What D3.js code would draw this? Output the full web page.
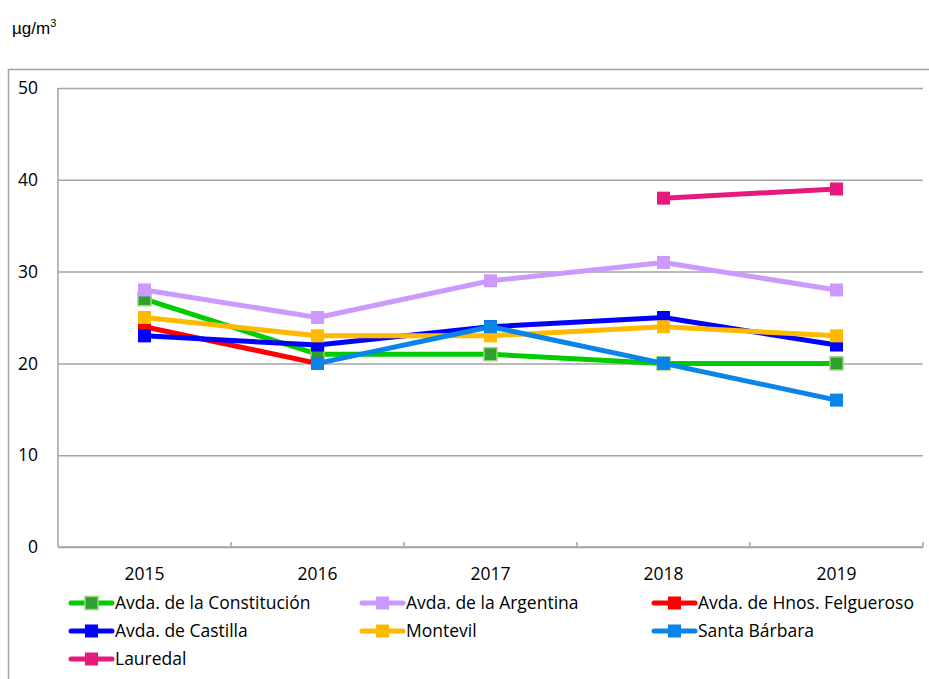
<!DOCTYPE html>
<html>
<head>
<meta charset="utf-8">
<script src="https://cdn.jsdelivr.net/npm/d3@7"></script>
<style>
    body { margin: 0; background: #fff; }
    svg { display: block; font-family: "Open Sans", sans-serif; }
</style>
</head>
<body>
<svg id="chart" width="929" height="679"></svg>
<script>
// Data
var years = ['2015', '2016', '2017', '2018', '2019'];
var yTicks = [0, 10, 20, 30, 40, 50];
var seriesNames = ['Avda. de la Constitución', 'Avda. de la Argentina', 'Avda. de Hnos. Felgueroso',
    'Avda. de Castilla', 'Montevil', 'Santa Bárbara', 'Lauredal'];
var constitucion = [27, 21, 21, 20, 20];
var argentina = [28, 25, 29, 31, 28];
var felgueroso = [24, 20, null, null, null];
var castilla = [23, 22, 24, 25, 22];
var montevil = [25, 23, 23, 24, 23];
var santaBarbara = [null, 20, 24, 20, 16];
var lauredal = [null, null, null, 38, 39];

var seriesValues = [constitucion, argentina, felgueroso, castilla, montevil, santaBarbara, lauredal];
var lineColors = ['#00cc00', '#cc99ff', '#ff0000', '#0000ff', '#ffb900', '#0a84e8', '#e8197d'];
var markerColors = ['#2ea02e', '#cc99ff', '#ff0000', '#0000ff', '#ffb900', '#0a84e8', '#e8197d'];
var markerStrokes = ['#9ad27a', null, null, null, null, null, null];

var plot = { left: 58, top: 88, right: 923, bottom: 547 };
var gray = '#a3a3a3';

var svg = d3.select('#chart');

// Outer frame of the chart area
svg.append('path')
    .attr('d', 'M8.5,690 V69.5 H940')
    .attr('fill', 'none')
    .attr('stroke', gray)
    .attr('stroke-width', 1.5);

// Unit label
var unit = svg.append('text')
    .attr('x', 12)
    .attr('y', 34)
    .attr('font-family', '"Liberation Sans", Arial, sans-serif')
    .attr('font-size', 17)
    .attr('fill', '#000')
    .text('µg/m');
unit.append('tspan')
    .attr('dy', -7)
    .attr('font-size', 11)
    .text('3');

var x = d3.scaleBand()
    .domain(years)
    .range([plot.left, plot.right]);
var y = d3.scaleLinear()
    .domain([0, 50])
    .range([plot.bottom, plot.top]);

// Gridlines and y labels
var yAxis = svg.append('g')
    .attr('transform', 'translate(' + plot.left + ',0)')
    .call(d3.axisLeft(y)
        .tickValues(yTicks)
        .tickSize(-(plot.right - plot.left))
        .tickPadding(20)
        .tickFormat(d3.format('d')));
yAxis.select('.domain').remove();
yAxis.selectAll('line')
    .attr('stroke', gray)
    .attr('stroke-width', 1.5);
yAxis.selectAll('text')
    .attr('font-size', 17.5)
    .attr('font-family', '"Open Sans", sans-serif')
    .attr('fill', '#000');

// Axis lines
svg.append('line')
    .attr('x1', plot.left).attr('x2', plot.left)
    .attr('y1', plot.top).attr('y2', plot.bottom)
    .attr('stroke', gray).attr('stroke-width', 1.5);
svg.append('line')
    .attr('x1', plot.left).attr('x2', plot.right)
    .attr('y1', y(0)).attr('y2', y(0))
    .attr('stroke', gray).attr('stroke-width', 1.5);

// Category boundary ticks
svg.selectAll('.cat-tick')
    .data(years)
    .enter()
    .append('line')
    .classed('cat-tick', true)
    .attr('x1', function (d) { return x(d) + x.bandwidth(); })
    .attr('x2', function (d) { return x(d) + x.bandwidth(); })
    .attr('y1', y(0))
    .attr('y2', y(0) - 5)
    .attr('stroke', gray)
    .attr('stroke-width', 1.5);

// Year labels
var xAxis = svg.append('g')
    .attr('transform', 'translate(0,' + plot.bottom + ')')
    .call(d3.axisBottom(x).tickSize(0).tickPadding(21));
xAxis.select('.domain').remove();
xAxis.selectAll('text')
    .attr('font-size', 17.5)
    .attr('font-family', '"Open Sans", sans-serif')
    .attr('fill', '#000');

// Series: line first, then markers
var cx = function (i) { return x(years[i]) + x.bandwidth() / 2; };
var line = d3.line()
    .defined(function (d) { return d != null; })
    .x(function (d, i) { return cx(i); })
    .y(function (d) { return y(d); });

seriesValues.forEach(function (values, s) {
    var g = svg.append('g');
    g.append('path')
        .datum(values)
        .attr('d', line)
        .attr('fill', 'none')
        .attr('stroke', lineColors[s])
        .attr('stroke-width', 5)
        .attr('stroke-linejoin', 'round');
    g.selectAll('rect')
        .data(values.map(function (v, i) { return { v: v, i: i }; }).filter(function (d) { return d.v != null; }))
        .enter()
        .append('rect')
        .attr('x', function (d) { return cx(d.i) - 6.5; })
        .attr('y', function (d) { return y(d.v) - 6.5; })
        .attr('width', 13)
        .attr('height', 13)
        .attr('fill', markerColors[s])
        .attr('stroke', markerStrokes[s] || 'none')
        .attr('stroke-width', 1.5);
});

// Legend: three columns
var legendCols = [71, 362, 654];
var legendRows = [603, 631, 659];
var legend = svg.selectAll('.legend')
    .data(seriesNames)
    .enter()
    .append('g')
    .classed('legend', true)
    .attr('transform', function (d, i) {
        return 'translate(' + legendCols[i % 3] + ',' + legendRows[Math.floor(i / 3)] + ')';
    });
legend.append('line')
    .attr('x1', 0).attr('x2', 41)
    .attr('y1', 0).attr('y2', 0)
    .attr('stroke', function (d, i) { return lineColors[i]; })
    .attr('stroke-width', 5)
    .attr('stroke-linecap', 'round');
legend.append('rect')
    .attr('x', 14).attr('y', -6.5)
    .attr('width', 13).attr('height', 13)
    .attr('fill', function (d, i) { return markerColors[i]; })
    .attr('stroke', function (d, i) { return markerStrokes[i] || 'none'; })
    .attr('stroke-width', 1.5);
legend.append('text')
    .attr('x', 44)
    .attr('y', 6)
    .attr('font-size', 17.5)
    .attr('fill', '#000')
    .text(function (d) { return d; });
</script>
</body>
</html>
